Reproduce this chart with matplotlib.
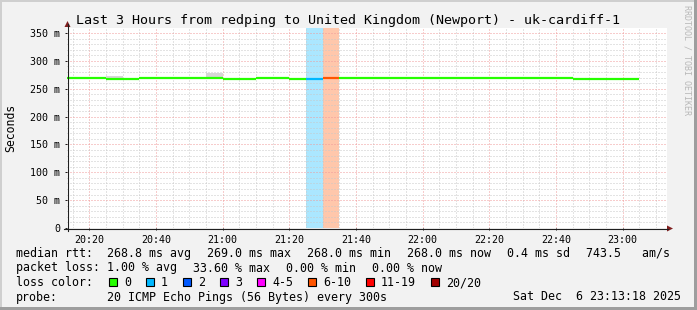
import matplotlib
matplotlib.use("Agg")
import matplotlib.pyplot as plt
from matplotlib.lines import Line2D
from matplotlib.patches import Polygon, Rectangle

W, H = 697, 310
MONO = "DejaVu Sans Mono"

# rrd data: one value per 5 minute step, first step starts 20:10
slot_start = "20:10"
step_min = 5
view_start = "20:13:18"
view_end = "23:13:18"

median_ms = [269, 269, 269, 268, 268, 269, 269, 269, 269, 269,
             268, 268, 269, 269, 268, 268, 269, 269, 269, 269,
             269, 269, 269, 269, 269, 269, 269, 269, 269, 269,
             269, 268, 268, 268, 268]
smoke_top_ms = [269, 269, 269, 273, 268, 269, 269, 269, 269, 277.5,
                268, 268, 269, 269, 268, 268, 269, 269, 269, 269,
                269, 269, 269, 269, 269, 269, 269, 269, 269, 269,
                269, 268, 268, 268, 268]
loss_pct = [0, 0, 0, 0, 0, 0, 0, 0, 0, 0,
            0, 0, 0, 0, 0, 5.0, 33.6, 0, 0, 0,
            0, 0, 0, 0, 0, 0, 0, 0, 0, 0,
            0, 0, 0, 0, 0]

loss_labels = ["0", "1", "2", "3", "4-5", "6-10", "11-19", "20/20"]
loss_upper = [0, 1, 2, 3, 5, 10, 19, 20]
loss_colors = ["#26ff00", "#00b8ff", "#0059ff", "#7e00ff",
               "#ff00ff", "#ff5500", "#ff0000", "#a10000"]

time_labels = ["20:20", "20:40", "21:00", "21:20", "21:40",
               "22:00", "22:20", "22:40", "23:00"]
y_major = [0, 50, 100, 150, 200, 250, 300, 350]

legend_rows = [
    ["median rtt:  ", "268.8 ms avg", "269.0 ms max", "268.0 ms min",
     "268.0 ms now", "0.4 ms sd", "743.5   am/s"],
    ["packet loss: ", "1.00 % avg", "33.60 % max", "0.00 % min", "0.00 % now"],
]
probe_text = "20 ICMP Echo Pings (56 Bytes) every 300s"
stamp = "Sat Dec  6 23:13:18 2025"
title = "Last 3 Hours from redping to United Kingdom (Newport) - uk-cardiff-1"


def hm(s):
    p = [float(v) for v in s.split(":")]
    return p[0] * 60 + p[1] + (p[2] / 60 if len(p) > 2 else 0)


def fx(x):
    return x / W


def fy(y):
    return 1 - y / H


def loss_class(pct):
    pings = round(pct * 20 / 100)
    for i, up in enumerate(loss_upper):
        if pings <= up:
            return i
    return len(loss_upper) - 1


fig = plt.figure(figsize=(W / 100, H / 100), dpi=100, facecolor="#f2f2f2")

# 3d-ish frame of rrdtool
fig.add_artist(Rectangle((0, fy(2)), 1, 2 / H, transform=fig.transFigure, color="#cfcfcf", lw=0))
fig.add_artist(Rectangle((0, 0), 2 / W, 1, transform=fig.transFigure, color="#cfcfcf", lw=0))
fig.add_artist(Rectangle((0, 0), 1, 3 / H, transform=fig.transFigure, color="#9e9e9e", lw=0))
fig.add_artist(Rectangle((fx(694), 0), 3 / W, 1, transform=fig.transFigure, color="#9e9e9e", lw=0))

ax = fig.add_axes([fx(67), fy(228), 600 / W, 200 / H])
ax.set_facecolor("white")
for s in ax.spines.values():
    s.set_visible(False)

t0 = hm(slot_start)
starts = [t0 + i * step_min for i in range(len(median_ms))]
ends = [s + step_min for s in starts]
classes = [loss_class(p) for p in loss_pct]

# loss background bands
for s, e, c in zip(starts, ends, classes):
    if c > 0:
        ax.axvspan(s, e, color=loss_colors[c], alpha=0.33, lw=0, zorder=0.3)

# smoke
ax.bar(starts, [t - m for t, m in zip(smoke_top_ms, median_ms)], bottom=median_ms,
       width=step_min, align="edge", color="#d6d6d6", lw=0, zorder=1)

# median line coloured by loss
ax.hlines(median_ms, starts, ends, colors=[loss_colors[c] for c in classes],
          lw=1.6, zorder=2)

ax.set_xlim(hm(view_start), hm(view_end))
ax.set_ylim(0, 359)

ax.set_xticks([hm(t) for t in time_labels])
ax.set_xticklabels(time_labels)
ax.set_xticks(range(int(hm("20:15")), int(hm("23:15")), 5), minor=True)
ax.set_yticks(y_major)
ax.set_yticklabels(["0" if v == 0 else "%d m" % v for v in y_major])
ax.set_yticks(range(0, 360, 10), minor=True)

ax.set_axisbelow(True)
ax.grid(which="minor", color="#c8c8c8", lw=0.72, ls=(0, (1, 2)))
ax.grid(which="major", color="#f09a9a", lw=0.72, ls=(0, (1, 2)))
ax.tick_params(which="both", colors="#1f1f1f", width=0.72, direction="out")
ax.tick_params(which="major", length=1.5, labelsize=7.2, labelcolor="black")
ax.tick_params(which="minor", length=0)
ax.tick_params(axis="x", pad=3.5)
ax.tick_params(axis="y", pad=3.5)
for lab in ax.get_xticklabels() + ax.get_yticklabels():
    lab.set_family(MONO)

ax.set_ylabel("Seconds", family=MONO, fontsize=8.3)
ax.yaxis.set_label_coords((17 - 67) / 600, 0.5)

# axes with arrows
fig.add_artist(Line2D([fx(67.5), fx(67.5)], [fy(231), fy(24)], color="#1f1f1f", lw=0.8))
fig.add_artist(Line2D([fx(64), fx(668)], [fy(228.5), fy(228.5)], color="#1f1f1f", lw=0.8))
fig.add_artist(Polygon([(fx(64.5), fy(27)), (fx(70.5), fy(27)), (fx(67.5), fy(21))],
                       transform=fig.transFigure, color="#801f1f", lw=0))
fig.add_artist(Polygon([(fx(667), fy(225.5)), (fx(667), fy(231.5)), (fx(673), fy(228.5))],
                       transform=fig.transFigure, color="#801f1f", lw=0))

fig.text(0.5, fy(24), title, family=MONO, fontsize=9.6, ha="center", va="baseline")
fig.text(fx(687), fy(5), "RRDTOOL / TOBI OETIKER", family=MONO, fontsize=6.0,
         rotation=270, ha="center", va="top", color="#b8b8b8")

# legend
CW = 7.0
baselines = [257, 271.5, 286, 300.5]
for row, base in zip(legend_rows, baselines):
    x = 16
    for k, item in enumerate(row):
        fig.text(fx(x), fy(base), item, family=MONO, fontsize=8.4, va="baseline")
        x += len(item) * CW + (0 if k == 0 else 16)

fig.text(fx(16), fy(baselines[2]), "loss color:", family=MONO, fontsize=8.4, va="baseline")
x = 109
for lab, col in zip(loss_labels, loss_colors):
    fig.add_artist(Rectangle((fx(x), fy(286)), 8 / W, 8 / H, transform=fig.transFigure,
                             facecolor=col, edgecolor="black", lw=0.8))
    fig.text(fx(x + 15), fy(baselines[2]), lab, family=MONO, fontsize=8.4, va="baseline")
    x += 15 + len(lab) * CW + 15

fig.text(fx(16), fy(baselines[3]), "probe:", family=MONO, fontsize=8.4, va="baseline")
fig.text(fx(107), fy(baselines[3]), probe_text, family=MONO, fontsize=8.4, va="baseline")
fig.text(fx(681), fy(baselines[3]), stamp, family=MONO, fontsize=8.4, va="baseline", ha="right")

fig.savefig("out.png", dpi=100, facecolor=fig.get_facecolor())
